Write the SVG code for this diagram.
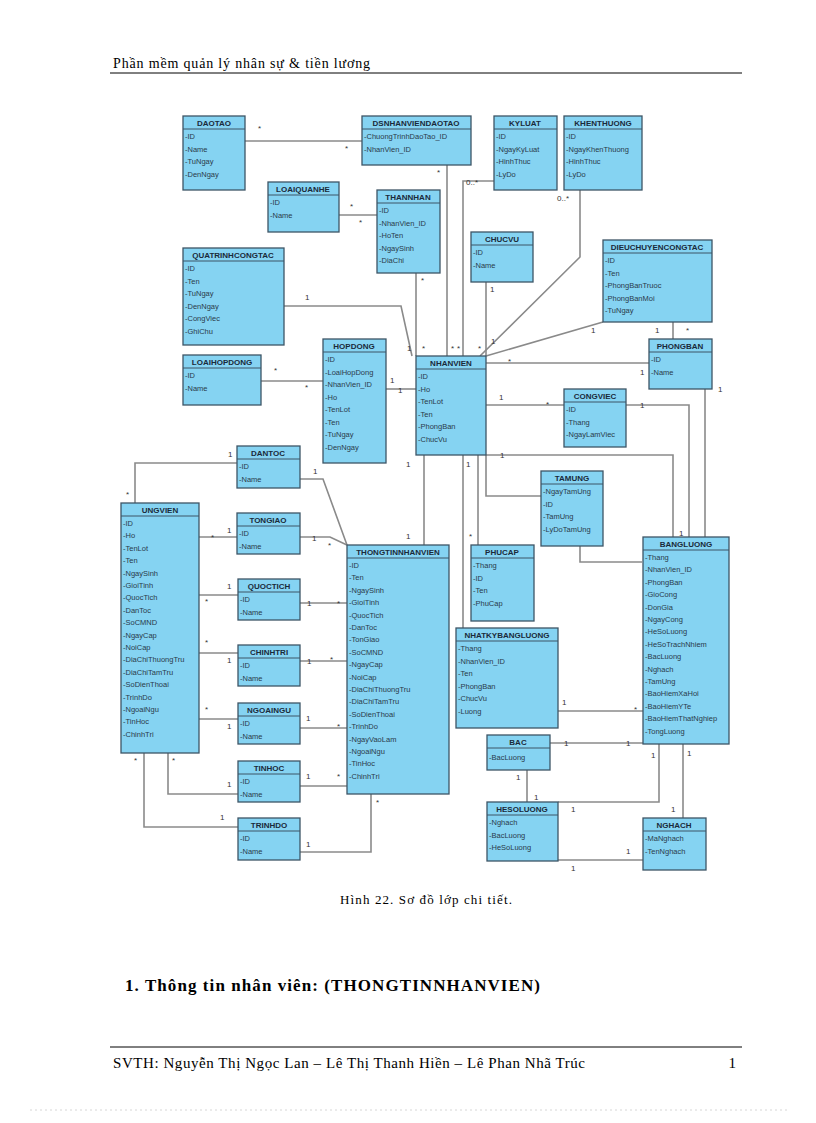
<svg xmlns="http://www.w3.org/2000/svg" width="816" height="1123" viewBox="0 0 816 1123">
<style>
.b{fill:#85d3f2;stroke:#3d5566;stroke-width:1.3}
.h{stroke:#3d5566;stroke-width:1}
.t{font-family:"Liberation Sans",Arial,sans-serif;font-size:8px;font-weight:bold;fill:#1a2a3a;text-anchor:middle}
.a{font-family:"Liberation Sans",Arial,sans-serif;font-size:7.5px;fill:#2a3a4a}
.c{fill:none;stroke:#8a8a8a;stroke-width:1.6}
.m{font-family:"Liberation Sans",Arial,sans-serif;font-size:8px;fill:#333}
.s{font-family:"Liberation Serif","Times New Roman",serif;fill:#000}
</style>
<rect width="816" height="1123" fill="#fff"/>
<text class="s" x="113" y="68" font-size="14" textLength="257" lengthAdjust="spacing">Phần mềm quản lý nhân sự &amp; tiền lương</text>
<line x1="110" y1="73" x2="742" y2="73" stroke="#000" stroke-width="1"/>

<g id="connectors">
<polyline class="c" points="245,141 362,141"/>
<polyline class="c" points="447,165 447,356"/>
<polyline class="c" points="494,181 463,181 463,356"/>
<polyline class="c" points="580,190 580,257 480,356"/>
<polyline class="c" points="339,215 377,215"/>
<polyline class="c" points="416,273 416,356"/>
<polyline class="c" points="486,282 486,356"/>
<polyline class="c" points="284,306 401,306 412,356"/>
<polyline class="c" points="603,322 486,356"/>
<polyline class="c" points="673,322 673,339"/>
<polyline class="c" points="261,381 323,381"/>
<polyline class="c" points="386,389 416,389"/>
<polyline class="c" points="486,363 649,363"/>
<polyline class="c" points="486,405 564,405"/>
<polyline class="c" points="626,405 689,405 689,537"/>
<polyline class="c" points="705,389 705,537"/>
<polyline class="c" points="486,455 673,455 673,537"/>
<polyline class="c" points="486,455 486,496 541,496"/>
<polyline class="c" points="478,455 478,545"/>
<polyline class="c" points="463,455 463,628"/>
<polyline class="c" points="424,455 424,545"/>
<polyline class="c" points="237,463 135,463 135,503"/>
<polyline class="c" points="300,479 323,479 347,545"/>
<polyline class="c" points="199,537 237,537"/>
<polyline class="c" points="300,537 330,537 347,545"/>
<polyline class="c" points="580,546 580,562 642,562"/>
<polyline class="c" points="199,595 238,595"/>
<polyline class="c" points="300,603 347,603"/>
<polyline class="c" points="199,653 238,653"/>
<polyline class="c" points="300,661 347,661"/>
<polyline class="c" points="199,719 238,719"/>
<polyline class="c" points="300,728 347,728"/>
<polyline class="c" points="168,753 168,794 238,794"/>
<polyline class="c" points="300,786 347,786"/>
<polyline class="c" points="144,753 144,827 238,827"/>
<polyline class="c" points="300,852 371,852 371,794"/>
<polyline class="c" points="558,711 643,711"/>
<polyline class="c" points="550,743 643,743"/>
<polyline class="c" points="527,770 527,802"/>
<polyline class="c" points="659,744 659,802 558,802"/>
<polyline class="c" points="683,744 683,818"/>
<polyline class="c" points="558,860 643,860"/>
<g class="m">
<text x="258" y="131">*</text><text x="345" y="151">*</text>
<text x="437" y="175">*</text><text x="466" y="185">0..*</text><text x="557" y="201">0..*</text>
<text x="350" y="209">*</text><text x="359" y="225">*</text>
<text x="421" y="283">*</text><text x="490" y="292">1</text><text x="305" y="300">1</text>
<text x="407" y="351">1</text><text x="422" y="351">*</text><text x="451" y="351">*</text><text x="457" y="351">*</text><text x="478" y="351">*</text><text x="491" y="344">1</text>
<text x="591" y="333">1</text><text x="655" y="333">1</text><text x="686" y="333">*</text>
<text x="274" y="373">*</text><text x="305" y="390">*</text>
<text x="390" y="383">1</text><text x="398" y="393">1</text>
<text x="508" y="364">*</text><text x="640" y="375">1</text><text x="718" y="392">1</text>
<text x="499" y="400">1</text><text x="546" y="407">*</text><text x="640" y="408">1</text>
<text x="500" y="458">1</text><text x="466" y="467">1</text><text x="406" y="467">1</text>
<text x="228" y="457">1</text><text x="126" y="497">*</text><text x="313" y="474">1</text>
<text x="227" y="533">1</text><text x="211" y="540">*</text><text x="312" y="541">1</text><text x="328" y="548">*</text>
<text x="469" y="539">*</text><text x="406" y="539">1</text><text x="679" y="536">1</text>
<text x="227" y="589">1</text><text x="205" y="604">*</text><text x="307" y="606">1</text><text x="337" y="606">*</text>
<text x="205" y="645">*</text><text x="227" y="663">1</text><text x="307" y="664">1</text><text x="330" y="662">*</text>
<text x="205" y="712">*</text><text x="227" y="729">1</text><text x="306" y="721">1</text><text x="337" y="729">*</text>
<text x="134" y="763">*</text><text x="172" y="763">*</text><text x="227" y="787">1</text><text x="306" y="779">1</text><text x="337" y="779">*</text>
<text x="220" y="820">1</text><text x="306" y="847">1</text><text x="376" y="805">*</text>
<text x="562" y="705">1</text><text x="634" y="712">*</text><text x="564" y="746">1</text><text x="626" y="746">1</text>
<text x="516" y="780">1</text><text x="534" y="800">1</text><text x="651" y="758">1</text><text x="687" y="756">1</text>
<text x="571" y="812">1</text><text x="671" y="812">1</text><text x="626" y="854">1</text><text x="571" y="871">1</text>
</g>
</g>

<g id="DAOTAO"><rect class="b" x="183" y="116" width="62" height="74"/><line class="h" x1="183" y1="129" x2="245" y2="129"/><text class="t" x="214" y="126">DAOTAO</text><text class="a" y="139"><tspan x="185">-ID</tspan><tspan x="185" dy="12.5">-Name</tspan><tspan x="185" dy="12.5">-TuNgay</tspan><tspan x="185" dy="12.5">-DenNgay</tspan></text></g>
<g id="DSNHANVIENDAOTAO"><rect class="b" x="362" y="116" width="109" height="49"/><line class="h" x1="362" y1="129" x2="471" y2="129"/><text class="t" x="416" y="126">DSNHANVIENDAOTAO</text><text class="a" y="139"><tspan x="364">-ChuongTrinhDaoTao_ID</tspan><tspan x="364" dy="12.5">-NhanVien_ID</tspan></text></g>
<g id="KYLUAT"><rect class="b" x="494" y="116" width="63" height="74"/><line class="h" x1="494" y1="129" x2="557" y2="129"/><text class="t" x="525" y="126">KYLUAT</text><text class="a" y="139"><tspan x="496">-ID</tspan><tspan x="496" dy="12.5">-NgayKyLuat</tspan><tspan x="496" dy="12.5">-HinhThuc</tspan><tspan x="496" dy="12.5">-LyDo</tspan></text></g>
<g id="KHENTHUONG"><rect class="b" x="564" y="116" width="78" height="74"/><line class="h" x1="564" y1="129" x2="642" y2="129"/><text class="t" x="603" y="126">KHENTHUONG</text><text class="a" y="139"><tspan x="566">-ID</tspan><tspan x="566" dy="12.5">-NgayKhenThuong</tspan><tspan x="566" dy="12.5">-HinhThuc</tspan><tspan x="566" dy="12.5">-LyDo</tspan></text></g>
<g id="LOAIQUANHE"><rect class="b" x="268" y="182" width="71" height="50"/><line class="h" x1="268" y1="195" x2="339" y2="195"/><text class="t" x="303" y="192">LOAIQUANHE</text><text class="a" y="205"><tspan x="270">-ID</tspan><tspan x="270" dy="12.5">-Name</tspan></text></g>
<g id="THANNHAN"><rect class="b" x="377" y="190" width="63" height="83"/><line class="h" x1="377" y1="203" x2="440" y2="203"/><text class="t" x="408" y="200">THANNHAN</text><text class="a" y="213"><tspan x="379">-ID</tspan><tspan x="379" dy="12.5">-NhanVien_ID</tspan><tspan x="379" dy="12.5">-HoTen</tspan><tspan x="379" dy="12.5">-NgaySinh</tspan><tspan x="379" dy="12.5">-DiaChi</tspan></text></g>
<g id="CHUCVU"><rect class="b" x="471" y="232" width="62" height="50"/><line class="h" x1="471" y1="245" x2="533" y2="245"/><text class="t" x="502" y="242">CHUCVU</text><text class="a" y="255"><tspan x="473">-ID</tspan><tspan x="473" dy="12.5">-Name</tspan></text></g>
<g id="QUATRINHCONGTAC"><rect class="b" x="183" y="248" width="101" height="97"/><line class="h" x1="183" y1="261" x2="284" y2="261"/><text class="t" x="233" y="258">QUATRINHCONGTAC</text><text class="a" y="271"><tspan x="185">-ID</tspan><tspan x="185" dy="12.5">-Ten</tspan><tspan x="185" dy="12.5">-TuNgay</tspan><tspan x="185" dy="12.5">-DenNgay</tspan><tspan x="185" dy="12.5">-CongViec</tspan><tspan x="185" dy="12.5">-GhiChu</tspan></text></g>
<g id="DIEUCHUYENCONGTAC"><rect class="b" x="603" y="240" width="109" height="82"/><line class="h" x1="603" y1="253" x2="712" y2="253"/><text class="t" x="657" y="250">DIEUCHUYENCONGTAC</text><text class="a" y="263"><tspan x="605">-ID</tspan><tspan x="605" dy="12.5">-Ten</tspan><tspan x="605" dy="12.5">-PhongBanTruoc</tspan><tspan x="605" dy="12.5">-PhongBanMoi</tspan><tspan x="605" dy="12.5">-TuNgay</tspan></text></g>
<g id="LOAIHOPDONG"><rect class="b" x="183" y="355" width="78" height="50"/><line class="h" x1="183" y1="368" x2="261" y2="368"/><text class="t" x="222" y="365">LOAIHOPDONG</text><text class="a" y="378"><tspan x="185">-ID</tspan><tspan x="185" dy="12.5">-Name</tspan></text></g>
<g id="HOPDONG"><rect class="b" x="323" y="339" width="63" height="124"/><line class="h" x1="323" y1="352" x2="386" y2="352"/><text class="t" x="354" y="349">HOPDONG</text><text class="a" y="362"><tspan x="325">-ID</tspan><tspan x="325" dy="12.5">-LoaiHopDong</tspan><tspan x="325" dy="12.5">-NhanVien_ID</tspan><tspan x="325" dy="12.5">-Ho</tspan><tspan x="325" dy="12.5">-TenLot</tspan><tspan x="325" dy="12.5">-Ten</tspan><tspan x="325" dy="12.5">-TuNgay</tspan><tspan x="325" dy="12.5">-DenNgay</tspan></text></g>
<g id="NHANVIEN"><rect class="b" x="416" y="356" width="70" height="99"/><line class="h" x1="416" y1="369" x2="486" y2="369"/><text class="t" x="451" y="366">NHANVIEN</text><text class="a" y="379"><tspan x="418">-ID</tspan><tspan x="418" dy="12.5">-Ho</tspan><tspan x="418" dy="12.5">-TenLot</tspan><tspan x="418" dy="12.5">-Ten</tspan><tspan x="418" dy="12.5">-PhongBan</tspan><tspan x="418" dy="12.5">-ChucVu</tspan></text></g>
<g id="PHONGBAN"><rect class="b" x="649" y="339" width="63" height="50"/><line class="h" x1="649" y1="352" x2="712" y2="352"/><text class="t" x="680" y="349">PHONGBAN</text><text class="a" y="362"><tspan x="651">-ID</tspan><tspan x="651" dy="12.5">-Name</tspan></text></g>
<g id="CONGVIEC"><rect class="b" x="564" y="389" width="62" height="58"/><line class="h" x1="564" y1="402" x2="626" y2="402"/><text class="t" x="595" y="399">CONGVIEC</text><text class="a" y="412"><tspan x="566">-ID</tspan><tspan x="566" dy="12.5">-Thang</tspan><tspan x="566" dy="12.5">-NgayLamViec</tspan></text></g>
<g id="DANTOC"><rect class="b" x="237" y="446" width="63" height="42"/><line class="h" x1="237" y1="459" x2="300" y2="459"/><text class="t" x="268" y="456">DANTOC</text><text class="a" y="469"><tspan x="239">-ID</tspan><tspan x="239" dy="12.5">-Name</tspan></text></g>
<g id="TAMUNG"><rect class="b" x="541" y="471" width="62" height="75"/><line class="h" x1="541" y1="484" x2="603" y2="484"/><text class="t" x="572" y="481">TAMUNG</text><text class="a" y="494"><tspan x="543">-NgayTamUng</tspan><tspan x="543" dy="12.5">-ID</tspan><tspan x="543" dy="12.5">-TamUng</tspan><tspan x="543" dy="12.5">-LyDoTamUng</tspan></text></g>
<g id="UNGVIEN"><rect class="b" x="121" y="503" width="78" height="250"/><line class="h" x1="121" y1="516" x2="199" y2="516"/><text class="t" x="160" y="513">UNGVIEN</text><text class="a" y="526"><tspan x="123">-ID</tspan><tspan x="123" dy="12.4">-Ho</tspan><tspan x="123" dy="12.4">-TenLot</tspan><tspan x="123" dy="12.4">-Ten</tspan><tspan x="123" dy="12.4">-NgaySinh</tspan><tspan x="123" dy="12.4">-GioiTinh</tspan><tspan x="123" dy="12.4">-QuocTich</tspan><tspan x="123" dy="12.4">-DanToc</tspan><tspan x="123" dy="12.4">-SoCMND</tspan><tspan x="123" dy="12.4">-NgayCap</tspan><tspan x="123" dy="12.4">-NoiCap</tspan><tspan x="123" dy="12.4">-DiaChiThuongTru</tspan><tspan x="123" dy="12.4">-DiaChiTamTru</tspan><tspan x="123" dy="12.4">-SoDienThoai</tspan><tspan x="123" dy="12.4">-TrinhDo</tspan><tspan x="123" dy="12.4">-NgoaiNgu</tspan><tspan x="123" dy="12.4">-TinHoc</tspan><tspan x="123" dy="12.4">-ChinhTri</tspan></text></g>
<g id="TONGIAO"><rect class="b" x="237" y="513" width="63" height="41"/><line class="h" x1="237" y1="526" x2="300" y2="526"/><text class="t" x="268" y="523">TONGIAO</text><text class="a" y="536"><tspan x="239">-ID</tspan><tspan x="239" dy="12.5">-Name</tspan></text></g>
<g id="THONGTINNHANVIEN"><rect class="b" x="347" y="545" width="102" height="249"/><line class="h" x1="347" y1="558" x2="449" y2="558"/><text class="t" x="398" y="555">THONGTINNHANVIEN</text><text class="a" y="568"><tspan x="349">-ID</tspan><tspan x="349" dy="12.4">-Ten</tspan><tspan x="349" dy="12.4">-NgaySinh</tspan><tspan x="349" dy="12.4">-GioiTinh</tspan><tspan x="349" dy="12.4">-QuocTich</tspan><tspan x="349" dy="12.4">-DanToc</tspan><tspan x="349" dy="12.4">-TonGiao</tspan><tspan x="349" dy="12.4">-SoCMND</tspan><tspan x="349" dy="12.4">-NgayCap</tspan><tspan x="349" dy="12.4">-NoiCap</tspan><tspan x="349" dy="12.4">-DiaChiThuongTru</tspan><tspan x="349" dy="12.4">-DiaChiTamTru</tspan><tspan x="349" dy="12.4">-SoDienThoai</tspan><tspan x="349" dy="12.4">-TrinhDo</tspan><tspan x="349" dy="12.4">-NgayVaoLam</tspan><tspan x="349" dy="12.4">-NgoaiNgu</tspan><tspan x="349" dy="12.4">-TinHoc</tspan><tspan x="349" dy="12.4">-ChinhTri</tspan></text></g>
<g id="PHUCAP"><rect class="b" x="471" y="545" width="63" height="76"/><line class="h" x1="471" y1="558" x2="534" y2="558"/><text class="t" x="502" y="555">PHUCAP</text><text class="a" y="568"><tspan x="473">-Thang</tspan><tspan x="473" dy="12.5">-ID</tspan><tspan x="473" dy="12.5">-Ten</tspan><tspan x="473" dy="12.5">-PhuCap</tspan></text></g>
<g id="BANGLUONG"><rect class="b" x="643" y="537" width="86" height="207"/><line class="h" x1="643" y1="550" x2="729" y2="550"/><text class="t" x="686" y="547">BANGLUONG</text><text class="a" y="560"><tspan x="645">-Thang</tspan><tspan x="645" dy="12.4">-NhanVien_ID</tspan><tspan x="645" dy="12.4">-PhongBan</tspan><tspan x="645" dy="12.4">-GioCong</tspan><tspan x="645" dy="12.4">-DonGia</tspan><tspan x="645" dy="12.4">-NgayCong</tspan><tspan x="645" dy="12.4">-HeSoLuong</tspan><tspan x="645" dy="12.4">-HeSoTrachNhiem</tspan><tspan x="645" dy="12.4">-BacLuong</tspan><tspan x="645" dy="12.4">-Nghach</tspan><tspan x="645" dy="12.4">-TamUng</tspan><tspan x="645" dy="12.4">-BaoHiemXaHoi</tspan><tspan x="645" dy="12.4">-BaoHiemYTe</tspan><tspan x="645" dy="12.4">-BaoHiemThatNghiep</tspan><tspan x="645" dy="12.4">-TongLuong</tspan></text></g>
<g id="QUOCTICH"><rect class="b" x="238" y="579" width="62" height="41"/><line class="h" x1="238" y1="592" x2="300" y2="592"/><text class="t" x="269" y="589">QUOCTICH</text><text class="a" y="602"><tspan x="240">-ID</tspan><tspan x="240" dy="12.5">-Name</tspan></text></g>
<g id="NHATKYBANGLUONG"><rect class="b" x="456" y="628" width="102" height="100"/><line class="h" x1="456" y1="641" x2="558" y2="641"/><text class="t" x="507" y="638">NHATKYBANGLUONG</text><text class="a" y="651"><tspan x="458">-Thang</tspan><tspan x="458" dy="12.5">-NhanVien_ID</tspan><tspan x="458" dy="12.5">-Ten</tspan><tspan x="458" dy="12.5">-PhongBan</tspan><tspan x="458" dy="12.5">-ChucVu</tspan><tspan x="458" dy="12.5">-Luong</tspan></text></g>
<g id="CHINHTRI"><rect class="b" x="238" y="645" width="62" height="41"/><line class="h" x1="238" y1="658" x2="300" y2="658"/><text class="t" x="269" y="655">CHINHTRI</text><text class="a" y="668"><tspan x="240">-ID</tspan><tspan x="240" dy="12.5">-Name</tspan></text></g>
<g id="NGOAINGU"><rect class="b" x="238" y="703" width="62" height="41"/><line class="h" x1="238" y1="716" x2="300" y2="716"/><text class="t" x="269" y="713">NGOAINGU</text><text class="a" y="726"><tspan x="240">-ID</tspan><tspan x="240" dy="12.5">-Name</tspan></text></g>
<g id="BAC"><rect class="b" x="487" y="735" width="63" height="35"/><line class="h" x1="487" y1="748" x2="550" y2="748"/><text class="t" x="518" y="745">BAC</text><text class="a" y="760"><tspan x="489">-BacLuong</tspan></text></g>
<g id="TINHOC"><rect class="b" x="238" y="761" width="62" height="41"/><line class="h" x1="238" y1="774" x2="300" y2="774"/><text class="t" x="269" y="771">TINHOC</text><text class="a" y="784"><tspan x="240">-ID</tspan><tspan x="240" dy="12.5">-Name</tspan></text></g>
<g id="HESOLUONG"><rect class="b" x="487" y="802" width="71" height="59"/><line class="h" x1="487" y1="815" x2="558" y2="815"/><text class="t" x="522" y="812">HESOLUONG</text><text class="a" y="825"><tspan x="489">-Nghach</tspan><tspan x="489" dy="12.5">-BacLuong</tspan><tspan x="489" dy="12.5">-HeSoLuong</tspan></text></g>
<g id="TRINHDO"><rect class="b" x="238" y="818" width="62" height="42"/><line class="h" x1="238" y1="831" x2="300" y2="831"/><text class="t" x="269" y="828">TRINHDO</text><text class="a" y="841"><tspan x="240">-ID</tspan><tspan x="240" dy="12.5">-Name</tspan></text></g>
<g id="NGHACH"><rect class="b" x="643" y="818" width="63" height="52"/><line class="h" x1="643" y1="831" x2="706" y2="831"/><text class="t" x="674" y="828">NGHACH</text><text class="a" y="841"><tspan x="645">-MaNghach</tspan><tspan x="645" dy="12.5">-TenNghach</tspan></text></g>

<text class="s" x="340" y="904" font-size="13" textLength="172" lengthAdjust="spacing">Hình  22. Sơ đồ lớp chi tiết.</text>
<text class="s" x="125" y="991" font-size="17" font-weight="bold" textLength="415" lengthAdjust="spacing">1.  Thông tin nhân viên: (THONGTINNHANVIEN)</text>
<line x1="110" y1="1047" x2="742" y2="1047" stroke="#000" stroke-width="1"/>
<text class="s" x="113" y="1068" font-size="15" textLength="472" lengthAdjust="spacing">SVTH: Nguyễn Thị Ngọc Lan – Lê Thị Thanh Hiền – Lê Phan Nhã Trúc</text>
<text class="s" x="736" y="1068" font-size="15" text-anchor="end">1</text>
<line x1="30" y1="1110" x2="790" y2="1110" stroke="#ccc" stroke-width="0.8" stroke-dasharray="2,3"/>
</svg>
